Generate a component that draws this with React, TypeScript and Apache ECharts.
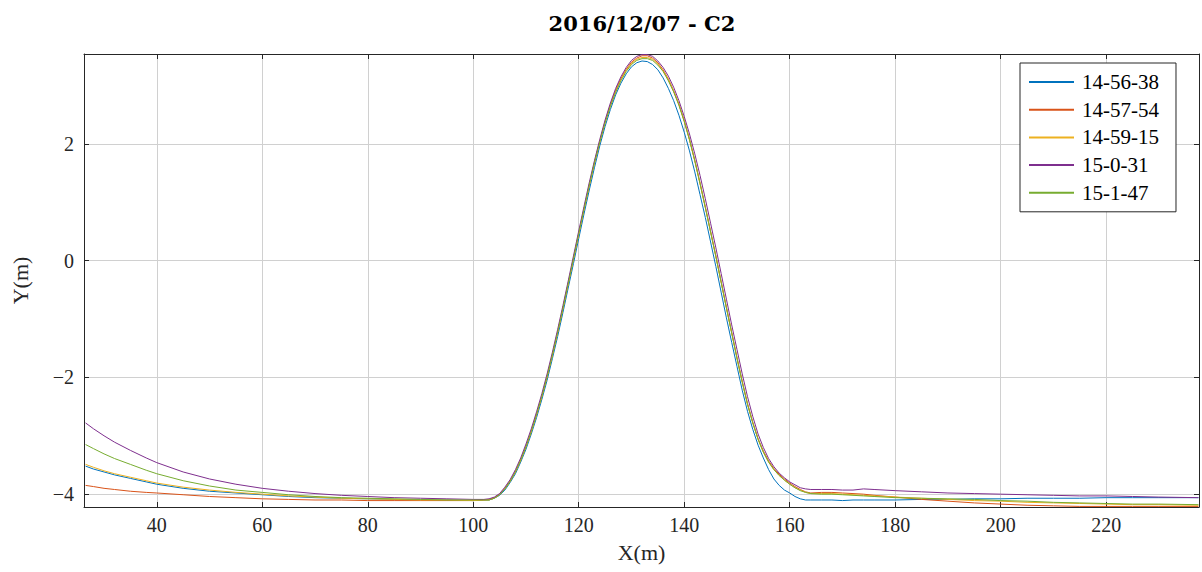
import React, { useEffect, useRef } from "react";
import * as echarts from "echarts";

const TITLE = "2016/12/07 - C2";
const SERIES_NAMES = ["14-56-38", "14-57-54", "14-59-15", "15-0-31", "15-1-47"];
const COLORS = ["#0072BD", "#D95319", "#EDB120", "#7E2F8E", "#77AC30"];

const X_LEFT = [26.5, 28, 30, 32, 35, 38, 40, 45, 50, 55, 60, 65, 70, 75, 80, 85, 90, 95, 100];
const X_BELL = [
  102, 103, 104, 105, 106, 107, 108, 109, 110, 111, 112, 113, 114, 115, 116, 117, 118, 119, 120, 121,
  122, 123, 124, 125, 126, 127, 128, 129, 130, 131, 132, 133, 134, 135, 136, 137, 138, 139, 140, 141,
  142, 143, 144, 145, 146, 147, 148, 149, 150, 151, 152, 153, 154, 155, 156, 157, 158, 159, 160, 161,
  162, 163, 164,
];
const X_RIGHT = [166, 168, 170, 172, 174, 176, 180, 185, 190, 195, 200, 205, 210, 215, 220, 225, 230, 237.5];

// 14-56-38 (blue)
const BLUE_LEFT = [-3.52, -3.57, -3.62, -3.67, -3.73, -3.79, -3.83, -3.9, -3.95, -3.98, -4.01, -4.04, -4.06, -4.07, -4.08, -4.09, -4.1, -4.1, -4.11];
const BLUE_BELL = [
  -4.1, -4.1, -4.07, -4.02, -3.93, -3.8, -3.65, -3.45, -3.23, -2.97, -2.69, -2.38, -2.05, -1.68, -1.3, -0.89, -0.47, -0.05, 0.38, 0.8,
  1.21, 1.6, 1.97, 2.3, 2.59, 2.84, 3.04, 3.2, 3.32, 3.39, 3.42, 3.41, 3.36, 3.27, 3.13, 2.95, 2.74, 2.49, 2.2, 1.88,
  1.52, 1.13, 0.74, 0.32, -0.1, -0.54, -0.98, -1.4, -1.81, -2.22, -2.58, -2.89, -3.16, -3.38, -3.58, -3.74, -3.85, -3.93, -3.98, -4.04,
  -4.08, -4.1, -4.1,
];
const BLUE_RIGHT = [-4.1, -4.1, -4.11, -4.1, -4.1, -4.1, -4.1, -4.09, -4.09, -4.08, -4.08, -4.07, -4.07, -4.07, -4.06, -4.06, -4.06, -4.06];

// 14-57-54 (red)
const RED_LEFT = [-3.85, -3.87, -3.9, -3.92, -3.95, -3.97, -3.98, -4.01, -4.04, -4.06, -4.08, -4.09, -4.1, -4.1, -4.11, -4.11, -4.11, -4.11, -4.11];
const RED_BELL = [
  -4.1, -4.09, -4.06, -4.0, -3.9, -3.77, -3.61, -3.41, -3.18, -2.92, -2.63, -2.32, -1.98, -1.61, -1.22, -0.81, -0.39, 0.04, 0.47, 0.89,
  1.3, 1.69, 2.05, 2.38, 2.67, 2.92, 3.12, 3.28, 3.4, 3.47, 3.51, 3.51, 3.47, 3.39, 3.27, 3.11, 2.91, 2.68, 2.4, 2.08,
  1.72, 1.33, 0.92, 0.5, 0.08, -0.36, -0.8, -1.23, -1.66, -2.07, -2.45, -2.77, -3.05, -3.26, -3.43, -3.56, -3.66, -3.74, -3.81, -3.87,
  -3.92, -3.96, -3.98,
];
const RED_RIGHT = [-3.97, -3.97, -3.98, -3.99, -4.0, -4.02, -4.05, -4.09, -4.12, -4.15, -4.17, -4.19, -4.2, -4.21, -4.21, -4.21, -4.21, -4.21];

// 14-59-15 (yellow)
const YELLOW_LEFT = [-3.49, -3.54, -3.6, -3.65, -3.71, -3.77, -3.81, -3.88, -3.93, -3.97, -4.0, -4.03, -4.05, -4.07, -4.08, -4.09, -4.1, -4.1, -4.11];
const YELLOW_BELL = [
  -4.1, -4.1, -4.07, -4.01, -3.91, -3.78, -3.62, -3.42, -3.19, -2.93, -2.64, -2.33, -1.99, -1.62, -1.23, -0.82, -0.4, 0.03, 0.46, 0.88,
  1.29, 1.68, 2.04, 2.37, 2.66, 2.9, 3.1, 3.26, 3.38, 3.45, 3.48, 3.48, 3.45, 3.37, 3.25, 3.1, 2.9, 2.67, 2.39, 2.07,
  1.71, 1.32, 0.91, 0.49, 0.07, -0.37, -0.81, -1.24, -1.67, -2.08, -2.46, -2.78, -3.06, -3.28, -3.45, -3.58, -3.68, -3.76, -3.83, -3.89,
  -3.93, -3.97, -3.99,
];
const YELLOW_RIGHT = [-3.99, -3.99, -4.0, -4.01, -4.02, -4.03, -4.05, -4.07, -4.09, -4.11, -4.12, -4.14, -4.15, -4.16, -4.17, -4.18, -4.18, -4.19];

// 15-0-31 (purple)
const PURPLE_LEFT = [-2.78, -2.88, -3.0, -3.11, -3.25, -3.38, -3.46, -3.62, -3.74, -3.83, -3.9, -3.95, -3.99, -4.02, -4.04, -4.06, -4.07, -4.08, -4.09];
const PURPLE_BELL = [
  -4.09, -4.08, -4.05, -3.99, -3.88, -3.75, -3.58, -3.38, -3.14, -2.88, -2.59, -2.28, -1.94, -1.57, -1.18, -0.77, -0.35, 0.08, 0.51, 0.93,
  1.34, 1.72, 2.08, 2.41, 2.7, 2.95, 3.15, 3.31, 3.43, 3.5, 3.53, 3.53, 3.5, 3.42, 3.31, 3.16, 2.97, 2.74, 2.47, 2.17,
  1.83, 1.46, 1.06, 0.64, 0.22, -0.22, -0.66, -1.1, -1.52, -1.94, -2.33, -2.67, -2.97, -3.2, -3.39, -3.53, -3.64, -3.72, -3.79, -3.84,
  -3.89, -3.91, -3.92,
];
const PURPLE_RIGHT = [-3.92, -3.92, -3.93, -3.93, -3.91, -3.92, -3.94, -3.96, -3.98, -3.99, -4.0, -4.01, -4.02, -4.03, -4.03, -4.04, -4.05, -4.06];

// 15-1-47 (green)
const GREEN_LEFT = [-3.15, -3.22, -3.31, -3.39, -3.49, -3.59, -3.65, -3.77, -3.86, -3.93, -3.97, -4.01, -4.04, -4.06, -4.07, -4.08, -4.09, -4.1, -4.1];
const GREEN_BELL = [
  -4.1, -4.1, -4.07, -4.01, -3.91, -3.78, -3.62, -3.42, -3.19, -2.93, -2.64, -2.33, -1.99, -1.62, -1.23, -0.82, -0.4, 0.03, 0.46, 0.88,
  1.29, 1.68, 2.03, 2.36, 2.64, 2.88, 3.08, 3.24, 3.36, 3.43, 3.46, 3.46, 3.43, 3.35, 3.24, 3.08, 2.89, 2.66, 2.38, 2.07,
  1.71, 1.32, 0.91, 0.49, 0.07, -0.37, -0.81, -1.24, -1.67, -2.08, -2.46, -2.78, -3.06, -3.28, -3.45, -3.58, -3.68, -3.76, -3.83, -3.89,
  -3.94, -3.97, -3.99,
];
const GREEN_RIGHT = [-4.0, -4.0, -4.01, -4.02, -4.03, -4.04, -4.06, -4.07, -4.08, -4.09, -4.11, -4.12, -4.14, -4.15, -4.16, -4.17, -4.17, -4.18];

const X_MIN = 26.2;
const X_MAX = 237.6;
const Y_MIN = -4.22;
const Y_MAX = 3.54;

const X_ALL = [...X_LEFT, ...X_BELL, ...X_RIGHT];
const Y_ALL = [
  [...BLUE_LEFT, ...BLUE_BELL, ...BLUE_RIGHT],
  [...RED_LEFT, ...RED_BELL, ...RED_RIGHT],
  [...YELLOW_LEFT, ...YELLOW_BELL, ...YELLOW_RIGHT],
  [...PURPLE_LEFT, ...PURPLE_BELL, ...PURPLE_RIGHT],
  [...GREEN_LEFT, ...GREEN_BELL, ...GREEN_RIGHT],
];

const SERIF = "Liberation Serif";
const AXIS_COLOR = "#262626";
const GRID_COLOR = "#d0d0d0";

const minus = (v: number) => String(v).replace("-", "\u2212");

export default function App() {
  const ref = useRef<HTMLDivElement>(null);
  useEffect(() => {
    if (!ref.current) return;
    const chart = echarts.init(ref.current, null, { renderer: "svg" });
    const tickStyle = { show: true, inside: true, length: 5, lineStyle: { color: AXIS_COLOR, width: 1 } };
    const lineStyle = { show: true, onZero: false, lineStyle: { color: AXIS_COLOR, width: 1 } };
    chart.setOption({
      animation: false,
      backgroundColor: "#ffffff",
      title: {
        text: TITLE,
        left: 637,
        textAlign: "center",
        top: 8,
        textStyle: { fontFamily: "DejaVu Serif", fontWeight: "bold", fontSize: 21, color: "#000" },
      },
      legend: {
        orient: "vertical",
        left: 1020,
        top: 63,
        itemWidth: 45,
        itemHeight: 14,
        itemGap: 5.7,
        padding: [8, 17, 8, 8],
        borderColor: AXIS_COLOR,
        borderWidth: 1,
        backgroundColor: "#ffffff",
        itemStyle: { opacity: 0 },
        textStyle: { fontFamily: SERIF, fontSize: 21, color: "#000", lineHeight: 22, padding: [0, 0, 0, 3] },
        data: SERIES_NAMES,
      },
      grid: { left: 84, top: 54, right: 3, bottom: 65, containLabel: false },
      xAxis: [
        {
          type: "value",
          position: "bottom",
          min: X_MIN,
          max: X_MAX,
          minInterval: 20,
          maxInterval: 20,
          name: "X(m)",
          nameLocation: "middle",
          nameGap: 34,
          nameTextStyle: { fontFamily: SERIF, fontSize: 22, color: "#262626" },
          axisLine: lineStyle,
          axisTick: tickStyle,
          axisLabel: {
            showMinLabel: false,
            showMaxLabel: false,
            margin: 8,
            fontFamily: SERIF,
            fontSize: 20,
            color: "#262626",
            formatter: minus,
          },
          splitLine: { show: true, lineStyle: { color: GRID_COLOR, width: 1 } },
        },
        {
          type: "value",
          position: "top",
          min: X_MIN,
          max: X_MAX,
          minInterval: 20,
          maxInterval: 20,
          axisLine: lineStyle,
          axisTick: tickStyle,
          axisLabel: { show: false },
          splitLine: { show: false },
        },
      ],
      yAxis: [
        {
          type: "value",
          position: "left",
          min: Y_MIN,
          max: Y_MAX,
          minInterval: 2,
          maxInterval: 2,
          name: "Y(m)",
          nameLocation: "middle",
          nameGap: 53,
          nameTextStyle: { fontFamily: SERIF, fontSize: 22, color: "#262626" },
          axisLine: lineStyle,
          axisTick: tickStyle,
          axisLabel: {
            showMinLabel: false,
            showMaxLabel: false,
            margin: 10,
            fontFamily: SERIF,
            fontSize: 20,
            color: "#262626",
            formatter: minus,
          },
          splitLine: { show: true, lineStyle: { color: GRID_COLOR, width: 1 } },
        },
        {
          type: "value",
          position: "right",
          min: Y_MIN,
          max: Y_MAX,
          minInterval: 2,
          maxInterval: 2,
          axisLine: lineStyle,
          axisTick: tickStyle,
          axisLabel: { show: false },
          splitLine: { show: false },
        },
      ],
      series: SERIES_NAMES.map((name, i) => ({
        name,
        type: "line",
        xAxisIndex: 0,
        yAxisIndex: 0,
        symbol: "none",
        showSymbol: false,
        smooth: false,
        clip: true,
        color: COLORS[i],
        lineStyle: { color: COLORS[i], width: 1 },
        emphasis: { disabled: true },
        data: X_ALL.map((x, j) => [x, Y_ALL[i][j]]),
      })),
    });
    return () => chart.dispose();
  }, []);
  return (
    <div
      ref={ref}
      style={{ position: "absolute", left: 0, top: 0, width: 1202, height: 572, background: "#fff" }}
    />
  );
}
